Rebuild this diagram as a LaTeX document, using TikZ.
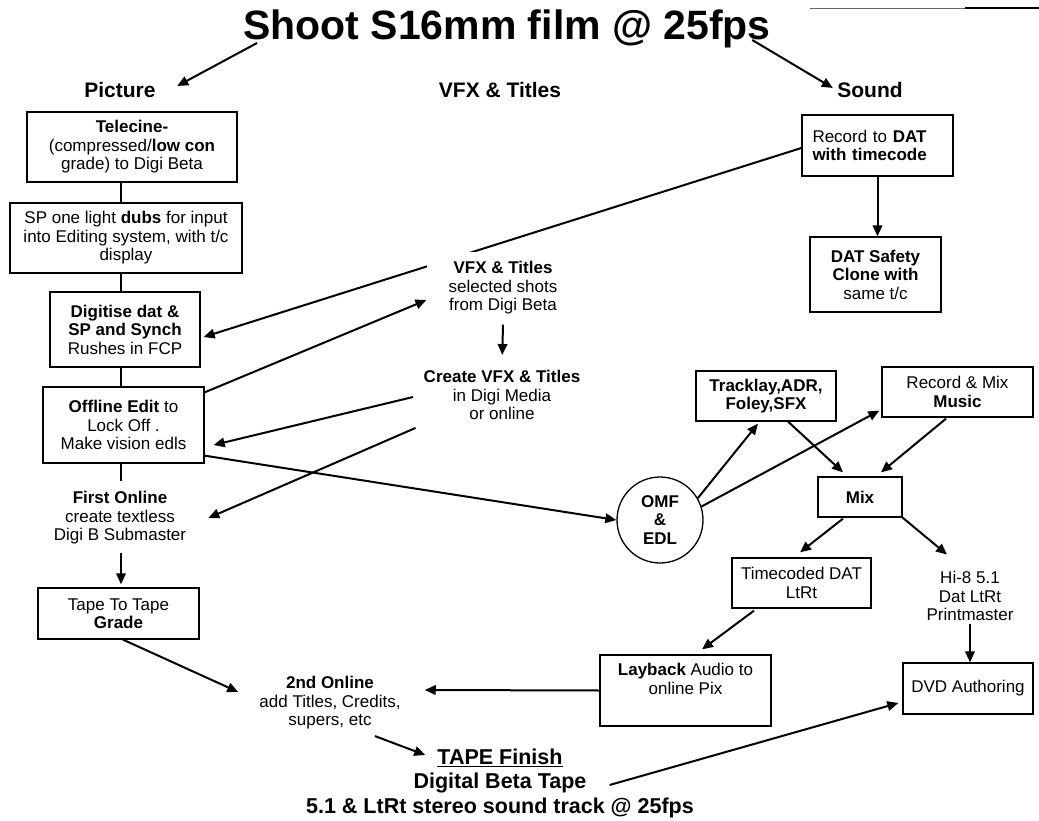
\documentclass[tikz,border=0pt]{standalone}
\usepackage{fontspec}
\setmainfont{Liberation Sans}
\usetikzlibrary{arrows.meta}
\def\fbody{\fontsize{17}{18.5}\selectfont}
\def\fhead{\fontsize{21}{24}\selectfont\bfseries}
\def\fbig{\fontsize{21.5}{25}\selectfont\bfseries}
\begin{document}
\begin{tikzpicture}[x=1pt,y=-1pt,
  box/.style={draw, line width=1.3pt, inner sep=0pt, align=center, font=\fbody},
  txt/.style={font=\fbody, align=center, inner sep=3pt},
  con/.style={line width=2pt},
  arr/.style={line width=2pt, -{Triangle[length=11pt,width=9.5pt]}}]
\useasboundingbox (0,0) rectangle (1039,821);

% stray rule at top right
\draw[line width=0.8pt, black!60] (810,8) -- (965,8);
\draw[line width=1.6pt] (965,8) -- (1039,8);

% title and headers
\node[font=\fontsize{41}{48}\selectfont\bfseries, inner sep=0pt] (title) at (507,29) {Shoot S16mm film @ 25fps};
\node[font=\fhead, inner sep=0pt] (hpic) at (120,90) {Picture};
\node[font=\fhead, inner sep=0pt] (hvfx) at (500,90) {VFX \& Titles};
\node[font=\fhead, inner sep=0pt] (hsnd) at (870,90) {Sound};

% picture column
\node[box, minimum width=210pt, minimum height=70pt] (tele) at (132,147) {\textbf{Telecine-}\\(compressed/\textbf{low con}\\grade) to Digi Beta};
\node[box, minimum width=232pt, minimum height=70pt] (sp) at (126,238) {SP one light \textbf{dubs} for input\\into Editing system, with t/c\\display};
\node[box, minimum width=150pt, minimum height=75pt] (dig) at (125,329.5) {\textbf{Digitise dat \&}\\\textbf{SP and Synch}\\Rushes in FCP};
\node[box, minimum width=161pt, minimum height=76pt] (off) at (123.5,425) {\textbf{Offline Edit} to\\Lock Off .\\Make vision edls};
\node[txt] (firston) at (120,518) {\textbf{First Online}\\create textless\\Digi B Submaster};
\node[box, minimum width=161pt, minimum height=51pt] (tape) at (118.5,613.5) {Tape To Tape\\\textbf{Grade}};

% sound column
\node[box, minimum width=151pt, minimum height=61pt, text width=130pt, align=left, inner xsep=10.5pt] (rec) at (877.5,145.5) {Record to \textbf{DAT}\\\textbf{with timecode}};
\node[box, minimum width=131pt, minimum height=75pt] (dat) at (875.5,274.5) {\textbf{DAT Safety}\\\textbf{Clone with}\\same t/c};
\node[box, minimum width=140pt, minimum height=50pt] (track) at (766,396) {\textbf{Tracklay,ADR,}\\\textbf{Foley,SFX}};
\node[box, minimum width=151pt, minimum height=50pt] (music) at (957.5,392) {Record \& Mix\\\textbf{Music}};
\node[box, minimum width=84pt, minimum height=40pt] (mix) at (860,497) {\textbf{Mix}};
\node[circle, draw, line width=1.3pt, minimum size=86pt, inner sep=0pt, font=\fbody\bfseries, align=center] (omf) at (660,520) {OMF\\\&\\EDL};
\node[box, minimum width=139pt, minimum height=50pt] (tc) at (801.5,583) {Timecoded DAT\\LtRt};
\node[txt] (hi8) at (970,596) {Hi-8 5.1\\Dat LtRt\\Printmaster};
\node[box, minimum width=171pt, minimum height=71pt] (lay) at (685.5,690.5) {};
\node[txt] (laytxt) at (685.5,679) {\textbf{Layback} Audio to\\online Pix};
\node[box, minimum width=130pt, minimum height=51pt] (dvd) at (968,688.5) {DVD Authoring};

% bottom / middle texts
\node[txt] (create) at (502,395) {\textbf{Create VFX \& Titles}\\in Digi Media\\or online};
\node[txt] (second) at (330,703) {\textbf{2nd Online}\\add Titles, Credits,\\supers, etc};
\node[font=\fbig, inner sep=3pt] (tapefin) at (500,758) {\underline{TAPE Finish}};
\node[font=\fbig, inner sep=3pt] (dbt) at (500,783) {Digital Beta Tape};
\node[font=\fbig, inner sep=3pt] (s51) at (500,808) {5.1 \& LtRt stereo sound track @ 25fps};

% title arrows
\draw[arr] ([shift={(14,-5.3)}]title.south west) -- ([shift={(21.4,-4)}]hpic.east);
\draw[arr] ([shift={(-18.7,-8.3)}]title.south east) -- ([shift={(-4.3,-2)}]hsnd.west);

% picture spine
\coordinate (spine) at (121,0);
\draw[con] (tele.south -| spine) -- (sp.north -| spine);
\draw[con] (sp.south -| spine) -- (dig.north -| spine);
\draw[con] (dig.south -| spine) -- (off.north -| spine);
\draw[con, shorten >=7pt] (off.south -| spine) -- (firston.north -| spine);
\draw[arr, shorten <=5pt, shorten >=3pt] (firston.south -| spine) -- (tape.north -| spine);

% sound
\draw[arr] (rec.south) -- (rec.south |- dat.north);
\draw[arr] ([shift={(0,2.5)}]rec.west) -- ([shift={(3,7.5)}]dig.east);

% VFX node on top of the line
\node[txt, fill=white, inner xsep=22pt, inner ysep=10pt] (vfx) at (503,288) {\textbf{VFX \& Titles}\\selected shots\\from Digi Beta};

\draw[arr] ([shift={(0,6)}]off.north east) -- ([shift={(0,12)}]vfx.west);
\draw[arr, shorten >=12pt] (vfx.south) -- (create.north);
\draw[arr] ([shift={(-7.5,2)}]create.west) -- ([shift={(9,20)}]off.east);
\draw[arr] ([shift={(-5,5)}]create.south west) -- ([shift={(19,0)}]firston.east);
\draw[arr] ([shift={(0,-8)}]off.south east) -- (omf.west);

% post
\draw[arr] (omf.30) -- ([shift={(-8,2)}]track.south);
\draw[arr] (omf.18) -- ([shift={(-2,-7)}]music.south west);
\draw[arr] ([shift={(21,-1)}]track.south) -- ([shift={(-17,-4)}]mix.north);
\draw[arr] ([shift={(-11.5,1)}]music.south) -- ([shift={(21,-4)}]mix.north);
\draw[arr] ([shift={(-17,1)}]mix.south) -- ([shift={(-1.5,-5)}]tc.north);
\draw[arr] (mix.south east) -- ([shift={(-23,-13.5)}]hi8.north);
\draw[arr] (hi8.south) -- (hi8.south |- dvd.north);
\draw[arr] ([shift={(-47.5,2)}]tc.south) -- ([shift={(16.5,-5)}]lay.north);
\draw[arr] (lay.west) -- ([shift={(21,-13)}]second.east);
\draw[arr] ([shift={(4.5,0)}]tape.south) -- ([shift={(-18,-11)}]second.west);
\draw[arr] ([shift={(45,3.5)}]second.south) -- ([shift={(-9,-3)}]tapefin.west);
\draw[arr] ([shift={(20,2)}]dbt.east) -- ([shift={(-4,14.5)}]dvd.west);
\end{tikzpicture}
\end{document}
